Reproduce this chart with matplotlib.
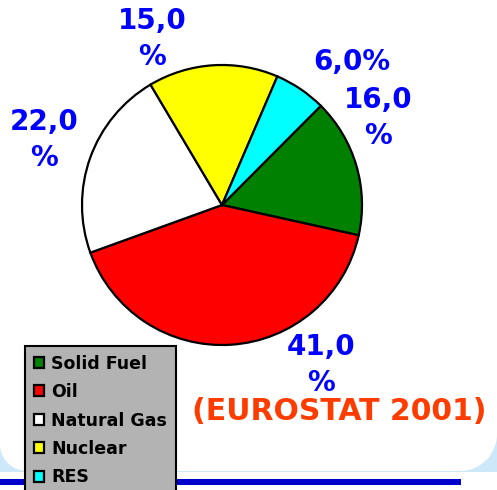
import matplotlib
matplotlib.use("Agg")
import numpy as np
import matplotlib.pyplot as plt
from matplotlib.patches import Polygon, Rectangle

categories = ["Solid Fuel", "Oil", "Natural Gas", "Nuclear", "RES"]
values = [16.0, 41.0, 22.0, 15.0, 6.0]
colors = ["#008000", "#ff0000", "#ffffff", "#ffff00", "#00ffff"]
source_text = "(EUROSTAT 2001)"

W, H = 497, 490
fig = plt.figure(figsize=(W / 100, H / 100), dpi=100)
ax = fig.add_axes([0, 0, 1, 1])

def Y(y_img):
    return H - y_img

# background decoration: light blue band behind a white rounded panel
ax.add_patch(Rectangle((-5, Y(472)), W + 10, H, facecolor="#cde9f9",
                       edgecolor="none", zorder=0))
t_r = np.linspace(0, -np.pi / 2, 30)
t_l = np.linspace(-np.pi / 2, -np.pi, 30)
right_arc = [(460 + 37 * np.cos(t), Y(434) + 37 * np.sin(t)) for t in t_r]
left_arc = [(27 + 27 * np.cos(t), Y(444) + 27 * np.sin(t)) for t in t_l]
panel = [(-5, H + 5), (W + 5, H + 5), (W + 5, Y(434))] + right_arc + left_arc + [(-5, Y(444))]
ax.add_patch(Polygon(panel, closed=True, facecolor="white", edgecolor="none", zorder=0.5))
ax.add_patch(Rectangle((0, Y(485)), 461, 6, facecolor="#0000cc",
                       edgecolor="none", zorder=0.6))

wedges, _ = ax.pie(values, colors=colors, startangle=45.1, counterclock=False,
                   center=(222, Y(205)), radius=140,
                   wedgeprops=dict(edgecolor="black", linewidth=1.6))
for w in wedges:
    w.set_zorder(2)

label_pos = [(378, 118), (321, 365), (44, 140), (152, 39), (352, 62)]
for v, (lx, ly) in zip(values, label_pos):
    s = f"{v:.1f}".replace(".", ",")
    txt = s + "%" if v < 10 else s + "\n%"
    ax.text(lx, Y(ly), txt, ha="center", va="center", multialignment="center",
            fontsize=20, fontweight="bold", color="#0000ff",
            family="DejaVu Sans", linespacing=1.32, zorder=5)

ax.text(339, Y(411), source_text, ha="center", va="center", fontsize=21.5,
        fontweight="bold", color="#ff3c00", family="DejaVu Sans", zorder=5)

leg = ax.legend(wedges, categories, loc="upper left",
                bbox_to_anchor=(25 / W, 1 - 346 / H), bbox_transform=fig.transFigure,
                prop=dict(family="DejaVu Sans", weight="bold", size=12.5),
                frameon=True, fancybox=False, framealpha=1,
                facecolor="#b3b3b3", edgecolor="black",
                handlelength=0.6, handleheight=0.6, handletextpad=0.4,
                labelspacing=0.6, borderpad=0.5, borderaxespad=0)
leg.get_frame().set_linewidth(1.5)
leg.set_zorder(10)

ax.set_xlim(0, W)
ax.set_ylim(0, H)
ax.set_aspect("equal")
ax.axis("off")
fig.savefig("out.png", dpi=100)
